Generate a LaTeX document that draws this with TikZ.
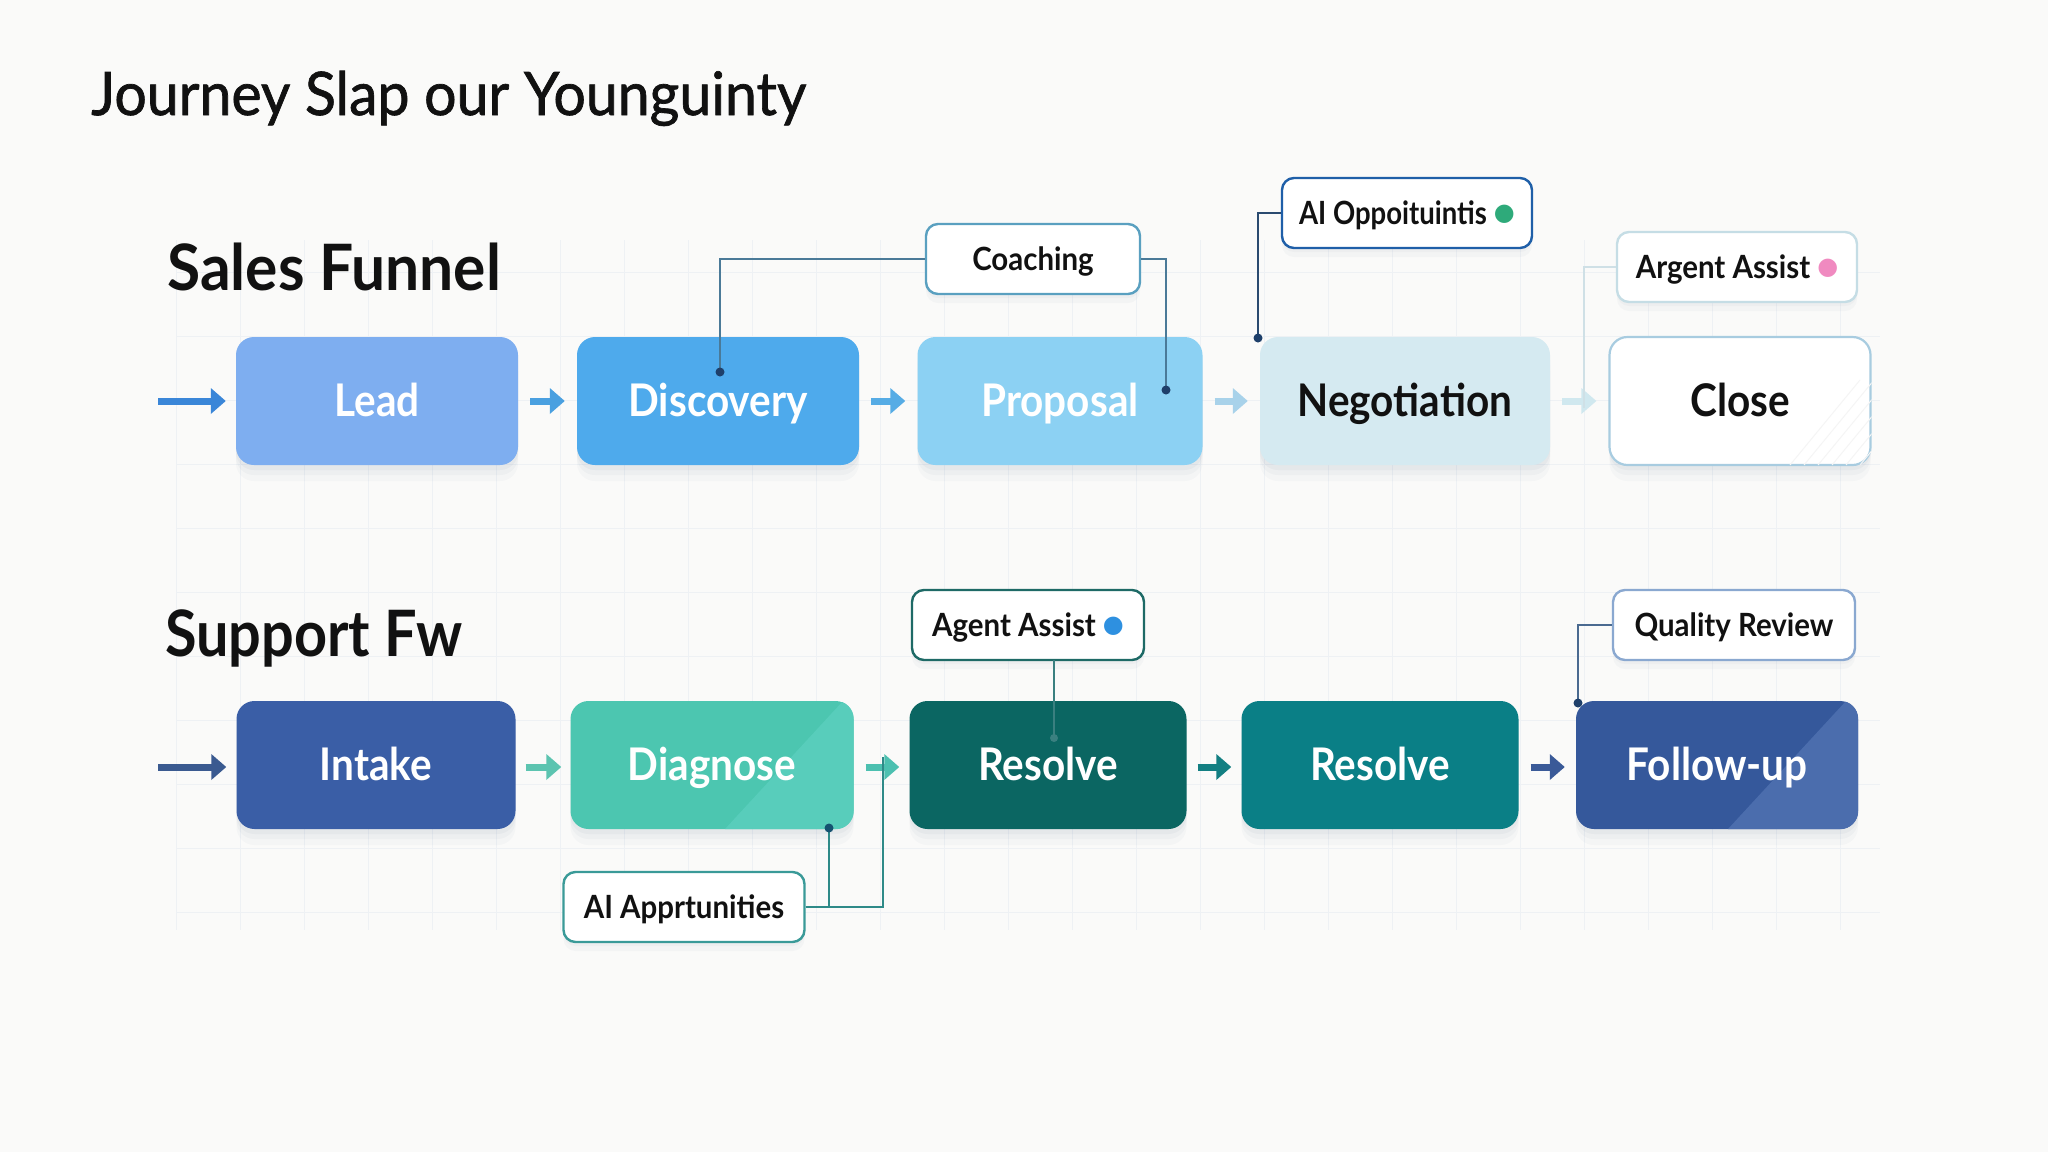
\documentclass[tikz,border=0pt]{standalone}
\usepackage{fontspec}
\usepackage{graphicx}
\setmainfont{Lato}
\newfontfamily\symf{DejaVu Sans}
\usetikzlibrary{arrows.meta}
\definecolor{bgc}{HTML}{FAFAF9}
\definecolor{gridc}{HTML}{EEF1F4}
\definecolor{shadc}{HTML}{5A6E8C}
\definecolor{leadc}{HTML}{7EAEF0}
\definecolor{discc}{HTML}{4EAAEC}
\definecolor{propc}{HTML}{8CD1F3}
\definecolor{negoc}{HTML}{D5EAF1}
\definecolor{closeb}{HTML}{A8CCE0}
\definecolor{intakec}{HTML}{3A5EA6}
\definecolor{diagc}{HTML}{4CC6B0}
\definecolor{diagl}{HTML}{58CDBB}
\definecolor{resac}{HTML}{0B6662}
\definecolor{resbc}{HTML}{0A7F86}
\definecolor{follc}{HTML}{35589B}
\definecolor{folll}{HTML}{4B6DAD}
\definecolor{txtc}{HTML}{111111}
\definecolor{navyd}{HTML}{1E3F6A}
\definecolor{fa0}{HTML}{3A86D8}
\definecolor{fa1}{HTML}{4AA0E0}
\definecolor{fa2}{HTML}{56ACE5}
\definecolor{fa3}{HTML}{A8D2EA}
\definecolor{fa4}{HTML}{D0E8EF}
\definecolor{fb0}{HTML}{3A5A90}
\definecolor{fb1}{HTML}{5CC4B0}
\definecolor{fb2}{HTML}{4CC0B0}
\definecolor{fb3}{HTML}{137F82}
\definecolor{fb4}{HTML}{3A5A98}
\definecolor{coachb}{HTML}{5AA0C0}
\definecolor{coachl}{HTML}{4A7A98}
\definecolor{oppob}{HTML}{1F5FA8}
\definecolor{oppol}{HTML}{2A4A70}
\definecolor{argb}{HTML}{C5DDE5}
\definecolor{argl}{HTML}{CFE0E6}
\definecolor{agentb}{HTML}{1E6A66}
\definecolor{agentl}{HTML}{3A8080}
\definecolor{qualb}{HTML}{8AA8D0}
\definecolor{quall}{HTML}{4A6A90}
\definecolor{aiab}{HTML}{3A9A98}
\definecolor{aial}{HTML}{2E8A88}
\definecolor{dotg}{HTML}{2EAA7A}
\definecolor{dotp}{HTML}{F08AC0}
\definecolor{dotb}{HTML}{2E90E0}
\newcommand{\cnd}[2]{\scalebox{#1}[1]{#2}}
\newcommand{\boxfont}{\fontsize{45}{52}\selectfont\bfseries}
\newcommand{\calfont}{\fontsize{32}{38}\selectfont\bfseries}
\newcommand{\dotmark}[1]{\hspace{7pt}\raisebox{3.5pt}{\textcolor{#1}{\symf\fontsize{24}{24}\selectfont ●}}}
\begin{document}
\begin{tikzpicture}[x=1pt,y=-1pt,
  softshadow/.style={
    preaction={fill=shadc, opacity=0.035, transform canvas={yshift=-16pt}},
    preaction={fill=shadc, opacity=0.045, transform canvas={yshift=-10pt}},
    preaction={fill=shadc, opacity=0.05, transform canvas={yshift=-5pt}}},
  stage/.style={rounded corners=18pt, minimum height=128pt, inner sep=0pt, font=\boxfont, text=white,
    text height=32pt, text depth=2pt, softshadow},
  stagetext/.style={inner sep=0pt, font=\boxfont, text=white, text height=32pt, text depth=2pt},
  callout/.style={rounded corners=12pt, minimum height=70pt, inner sep=0pt, font=\calfont, text=txtc, fill=white, line width=2.4pt,
    text height=23pt, text depth=1pt,
    preaction={fill=shadc, opacity=0.04, transform canvas={yshift=-9pt}},
    preaction={fill=shadc, opacity=0.04, transform canvas={yshift=-4pt}}},
  flow/.style={line width=7pt, -{Triangle[length=15pt,width=25pt]}},
  link/.style={line width=1.6pt},
  pin/.style={fill=navyd},
]
% background
\fill[bgc] (0,0) rectangle (2048,1152);
\useasboundingbox (0,0) rectangle (2048,1152);
\foreach \gx in {176,240,...,1880} {\draw[gridc, line width=1pt] (\gx,240) -- (\gx,930);}
\foreach \gy in {272,336,...,930} {\draw[gridc, line width=1pt] (176,\gy) -- (1880,\gy);}

% title and headings
\node[anchor=base west, inner sep=0pt, font=\fontsize{60}{70}\selectfont\addfontfeature{FakeBold=1.2}, text=txtc] (title) at (91,115) {\cnd{0.953}{Journey Slap our Younguinty}};
\node[anchor=base west, inner sep=0pt, font=\fontsize{64}{72}\selectfont\bfseries, text=txtc] (hsales) at (167,290) {\cnd{0.945}{Sales Funnel}};
\node[anchor=base west, inner sep=0pt, font=\fontsize{64}{72}\selectfont\bfseries, text=txtc] (hsup) at (165,656) {\cnd{0.9}{Support Fw}};

% sales row
\node[stage, fill=leadc, minimum width=282pt] (lead) at (377,401) {\cnd{0.9}{Lead}};
\node[stage, fill=discc, minimum width=282pt] (disc) at (718,401) {\cnd{0.9}{Discovery}};
\node[stage, fill=propc, minimum width=285pt] (prop) at (1060,401) {\cnd{0.9}{Proposal}};
\node[stage, fill=negoc, minimum width=290pt, text=txtc] (nego) at (1405,401) {\cnd{0.9}{Negotiation}};
\node[stage, fill=white, draw=closeb, line width=2.2pt, minimum width=261pt, text=txtc] (close) at (1740,401) {\cnd{0.9}{Close}};
\begin{scope}
\clip[rounded corners=18pt] (close.south west) rectangle (close.north east);
\foreach \k in {0,14,...,70} {\draw[black!4, line width=1pt] (1790+\k,465) -- (1860+\k,380);}
\end{scope}

\coordinate (s0) at (158,401);
\draw[flow, fa0] (s0) -- ([xshift=-10pt]lead.west);
\draw[flow, fa1] ([xshift=12pt]lead.east) -- ([xshift=-12pt]disc.west);
\draw[flow, fa2] ([xshift=12pt]disc.east) -- ([xshift=-12pt]prop.west);
\draw[flow, fa3] ([xshift=12pt]prop.east) -- ([xshift=-12pt]nego.west);
\draw[flow, fa4] ([xshift=12pt]nego.east) -- ([xshift=-12pt]close.west);

% sales callouts
\node[callout, draw=coachb, minimum width=214pt] (coach) at (1033,259) {\cnd{0.92}{Coaching}};
\node[callout, draw=oppob, minimum width=250pt] (oppo) at (1407,213) {\cnd{0.86}{AI Oppoituintis}\dotmark{dotg}};
\node[callout, draw=argb, minimum width=240pt] (argent) at (1737,267) {\cnd{0.92}{Argent Assist}\dotmark{dotp}};

\coordinate (pdisc) at (720,372);
\coordinate (pprop) at (1166,390);
\coordinate (pnego) at (1258,338);
\coordinate (parg) at (1584,408);
\draw[link, coachl] (coach.west) -| (pdisc);
\fill[pin] (pdisc) circle (4.5pt);
\draw[link, coachl] (coach.east) -| (pprop);
\fill[pin] (pprop) circle (4.5pt);
\draw[link, oppol] (oppo.west) -| (pnego);
\fill[pin] (pnego) circle (4.5pt);
\draw[link, argl] (argent.west) -| (parg);

% support row
\node[stage, fill=intakec, minimum width=279pt] (intake) at (376,765) {\cnd{0.9}{Intake}};
\node[stage, fill=diagc, minimum width=283pt] (diag) at (712,765) {};
\begin{scope}
\clip[rounded corners=18pt] (diag.south west) rectangle (diag.north east);
\fill[diagl] (725,829) -- (843,701) -- (860,701) -- (860,829) -- cycle;
\end{scope}
\node[stagetext] (diagt) at (diag.center) {\cnd{0.9}{Diagnose}};
\node[stage, fill=resac, minimum width=277pt] (resa) at (1048,765) {\cnd{0.9}{Resolve}};
\node[stage, fill=resbc, minimum width=277pt] (resb) at (1380,765) {\cnd{0.9}{Resolve}};
\node[stage, fill=follc, minimum width=282pt] (foll) at (1717,765) {};
\begin{scope}
\clip[rounded corners=18pt] (foll.south west) rectangle (foll.north east);
\fill[folll] (1728,829) -- (1846,701) -- (1860,701) -- (1860,829) -- cycle;
\end{scope}
\node[stagetext] (follt) at (foll.center) {\cnd{0.9}{Follow-up}};

\coordinate (t0) at (158,767);
\draw[flow, fb0] (t0) -- ([xshift=-10pt,yshift=-2pt]intake.west);
\draw[flow, fb1] ([xshift=10pt,yshift=-2pt]intake.east) -- ([xshift=-9pt,yshift=-2pt]diag.west);
\draw[flow, fb2] ([xshift=12pt,yshift=-2pt]diag.east) -- ([xshift=-10pt,yshift=-2pt]resa.west);
\draw[flow, fb3] ([xshift=11pt,yshift=-2pt]resa.east) -- ([xshift=-10pt,yshift=-2pt]resb.west);
\draw[flow, fb4] ([xshift=12pt,yshift=-2pt]resb.east) -- ([xshift=-11pt,yshift=-2pt]foll.west);

% support callouts
\node[callout, draw=agentb, minimum width=232pt] (agent) at (1028,625) {\cnd{0.92}{Agent Assist}\dotmark{dotb}};
\node[callout, draw=qualb, minimum width=242pt] (qual) at (1734,625) {\cnd{0.92}{Quality Review}};
\node[callout, draw=aiab, minimum width=241pt] (aiapp) at (684,907) {\cnd{0.92}{AI Apprtunities}};

\coordinate (pres) at (1054,738);
\coordinate (pfoll) at (1578,703);
\coordinate (pdiag) at (829,828);
\coordinate (parr) at (883,757);
\draw[link, agentl] (1054,660) -- (pres);
\fill[agentl] (pres) circle (4pt);
\draw[link, quall] (qual.west) -| (pfoll);
\fill[pin] (pfoll) circle (4.5pt);
\draw[link, aial] (aiapp.east) -| (pdiag);
\fill[navyd!70!teal] (pdiag) circle (4.5pt);
\draw[link, aial] (aiapp.east) -| (parr);
\end{tikzpicture}
\end{document}
